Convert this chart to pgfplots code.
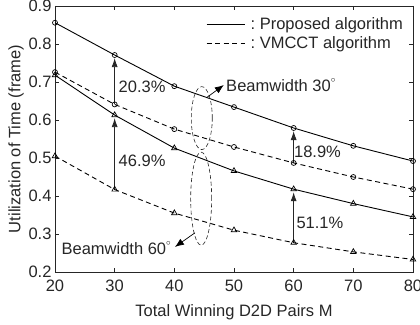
\documentclass[border=0pt]{standalone}
\usepackage{fontspec}
\setmainfont{Liberation Sans}
\usepackage{pgfplots}
\pgfplotsset{compat=1.18}
\usetikzlibrary{arrows.meta}
\definecolor{axc}{rgb}{0.15,0.15,0.15}
\begin{document}
\begin{tikzpicture}[font=\fontsize{16.5bp}{19bp}\selectfont]
\begin{axis}[
  scale only axis, width=358bp, height=266bp,
  xmin=20, xmax=80, ymin=0.2, ymax=0.9,
  xtick={20,30,...,80}, ytick={0.2,0.3,...,0.9},
  yticklabel style={/pgf/number format/fixed,/pgf/number format/precision=1,/pgf/number format/fixed zerofill},
  xticklabel style={yshift=-4bp},
  /pgf/number format/assume math mode=true,
  tick align=inside, major tick length=4bp,
  axis line style={axc, line width=0.6bp},
  every tick/.style={axc, line width=0.6bp},
  tick label style={axc},
  xlabel={Total Winning D2D Pairs M},
  ylabel={Utilization of Time (frame)},
  xlabel style={yshift=-7bp},
  ylabel style={yshift=-2bp},
  label style={axc},
  clip=false,
  legend style={draw=none, fill=none, at={(rel axis cs:0.975,0.96)}, anchor=north east,
    row sep=3.5bp, inner sep=0bp, nodes={inner sep=1bp, text=axc}},
  legend cell align=left,
  legend image code/.code={\draw[#1, line width=0.8bp] (0bp,0bp) -- (38bp,0bp);},
]
\addlegendimage{black, solid}
\addlegendentry{\ :\ Proposed algorithm}
\addlegendimage{black, dash pattern=on 5bp off 3.5bp}
\addlegendentry{\ :\ VMCCT algorithm}

% annotation arrows
\addplot[forget plot, black!85, line width=0.8bp, -{Latex[length=9bp,width=6bp]}] coordinates {(30,0.641) (30,0.763)};
\addplot[forget plot, black!85, line width=0.8bp, -{Latex[length=9bp,width=6bp]}] coordinates {(30,0.417) (30,0.605)};
\addplot[forget plot, black!85, line width=0.8bp, -{Latex[length=9bp,width=6bp]}] coordinates {(60,0.487) (60,0.571)};
\addplot[forget plot, black!85, line width=0.8bp, -{Latex[length=9bp,width=6bp]}] coordinates {(60,0.277) (60,0.410)};

% data
\addplot[forget plot, black, line width=0.9bp, mark=o, mark size=2.5bp, mark options={solid, line width=0.7bp}]
  coordinates {(20,0.856)(30,0.771)(40,0.689)(50,0.634)(60,0.579)(70,0.532)(80,0.492)};
\addplot[forget plot, black, line width=0.9bp, dash pattern=on 5bp off 3.5bp, mark=o, mark size=2.5bp, mark options={solid, line width=0.7bp}]
  coordinates {(20,0.726)(30,0.641)(40,0.576)(50,0.529)(60,0.487)(70,0.450)(80,0.418)};
\addplot[forget plot, black, line width=0.9bp, mark=triangle, mark size=3.2bp, mark options={solid, line width=0.7bp}]
  coordinates {(20,0.718)(30,0.613)(40,0.526)(50,0.466)(60,0.418)(70,0.380)(80,0.345)};
\addplot[forget plot, black, line width=0.9bp, dash pattern=on 5bp off 3.5bp, mark=triangle, mark size=3.2bp, mark options={solid, line width=0.7bp}]
  coordinates {(20,0.505)(30,0.417)(40,0.355)(50,0.310)(60,0.277)(70,0.253)(80,0.233)};

% ellipses
\draw[black!85, line width=0.6bp, dash pattern=on 4bp off 2.5bp] (axis cs:44.6,0.605) ellipse [x radius=10.5bp, y radius=31.5bp];
\draw[black!85, line width=0.6bp, dash pattern=on 4bp off 2.5bp] (axis cs:44.5,0.393) ellipse [x radius=10.5bp, y radius=46.5bp];
\addplot[forget plot, black, line width=0.7bp, -{Latex[length=9bp,width=7bp]}] coordinates {(45.5,0.66) (48.3,0.692)};
\addplot[forget plot, black, line width=0.7bp, -{Latex[length=9bp,width=7bp]}] coordinates {(43.45,0.303) (40.1,0.266)};

% labels
\node[anchor=center, text=axc] at (axis cs:34.6,0.687) {20.3\%};
\node[anchor=center, text=axc] at (axis cs:34.6,0.492) {46.9\%};
\node[anchor=center, text=axc] at (axis cs:64.0,0.516) {18.9\%};
\node[anchor=center, text=axc] at (axis cs:64.4,0.329) {51.1\%};
\node[anchor=west, text=axc, inner sep=1bp] at (axis cs:48.5,0.692) {Beamwidth 30\raisebox{1ex}{\fontsize{9bp}{9bp}\selectfont$\circ$}};
\node[anchor=east, text=axc, inner sep=1bp] at (axis cs:39.6,0.263) {Beamwidth 60\raisebox{1ex}{\fontsize{9bp}{9bp}\selectfont$\circ$}};
\end{axis}
\pgfresetboundingbox
\path[use as bounding box] (-55bp,-53bp) rectangle (365bp,272bp);
\end{tikzpicture}
\end{document}
